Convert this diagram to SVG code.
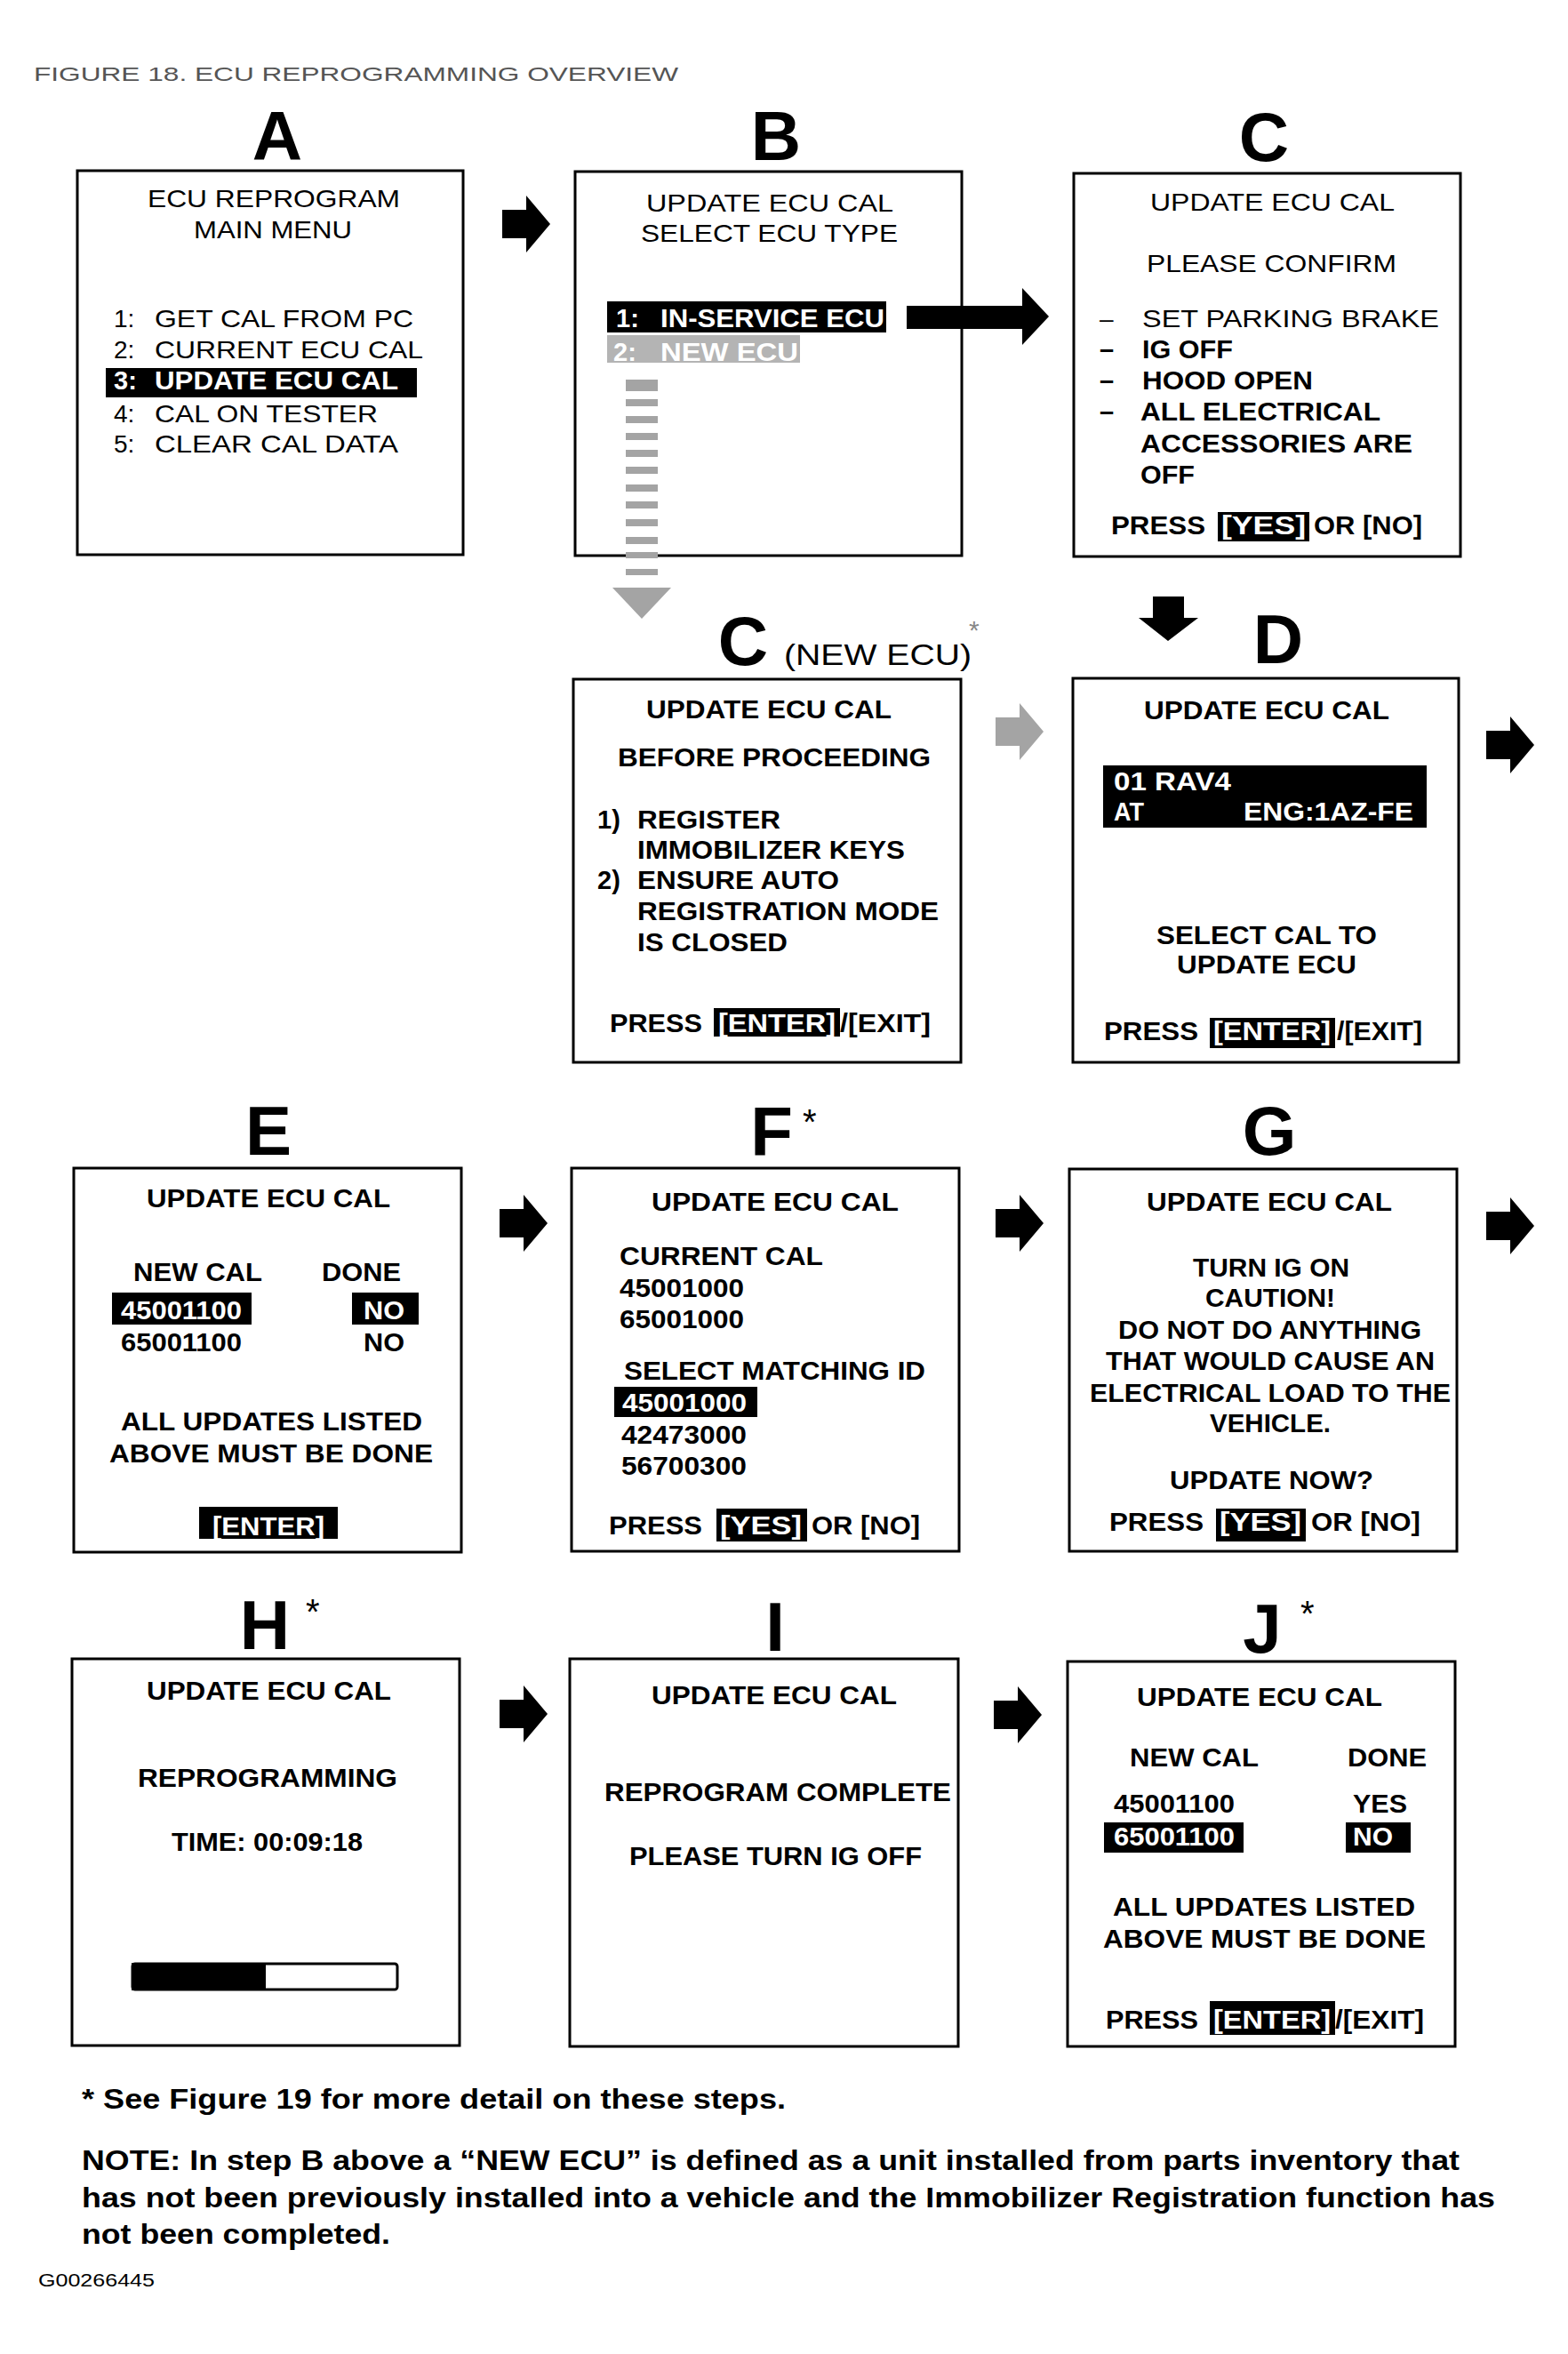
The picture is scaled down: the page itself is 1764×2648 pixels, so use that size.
<svg xmlns="http://www.w3.org/2000/svg" width="1764" height="2648" viewBox="0 0 1764 2648">
<style>
text { font-family: "Liberation Sans", Arial, sans-serif; fill: #000; }
.r { font-size: 28px; }
.b { font-size: 29px; font-weight: bold; }
.w { fill: #fff; }
.big { font-size: 78px; font-weight: bold; text-anchor: middle; }
.ast { font-size: 40px; }
.box { fill: #fff; stroke: #000; stroke-width: 3; }
.hl { fill: #000; }
.gray { fill: #a4a4a4; }
.foot { font-size: 32px; font-weight: bold; }
</style>
<defs>
<path id="arr" d="M0,-16 H27 V-32 L54,0 L27,32 V16 H0 Z"/>
</defs>
<rect width="1764" height="2648" fill="#fff"/>
<text x="38" y="91" font-size="22" style="fill:#555" textLength="725" lengthAdjust="spacingAndGlyphs">FIGURE 18. ECU REPROGRAMMING OVERVIEW</text>

<g id="node-A">
<text class="big" x="312" y="180">A</text>
<rect class="box" x="87" y="192" width="434" height="432"/>
<text class="r" x="166" y="233" textLength="284" lengthAdjust="spacingAndGlyphs">ECU REPROGRAM</text>
<text class="r" x="218" y="268" textLength="178" lengthAdjust="spacingAndGlyphs">MAIN MENU</text>
<text class="r" x="128" y="368">1:</text><text class="r" x="174" y="368" textLength="291" lengthAdjust="spacingAndGlyphs">GET CAL FROM PC</text>
<text class="r" x="128" y="403">2:</text><text class="r" x="174" y="403" textLength="302" lengthAdjust="spacingAndGlyphs">CURRENT ECU CAL</text>
<rect class="hl" x="119" y="414" width="350" height="33"/>
<text class="b w" x="128" y="438">3:</text><text class="b w" x="174" y="438" textLength="274" lengthAdjust="spacingAndGlyphs">UPDATE ECU CAL</text>
<text class="r" x="128" y="475">4:</text><text class="r" x="174" y="475" textLength="251" lengthAdjust="spacingAndGlyphs">CAL ON TESTER</text>
<text class="r" x="128" y="509">5:</text><text class="r" x="174" y="509" textLength="274" lengthAdjust="spacingAndGlyphs">CLEAR CAL DATA</text>
</g>

<g id="node-B">
<text class="big" x="873" y="180">B</text>
<rect class="box" x="647" y="193" width="435" height="432"/>
<text class="r" x="727" y="238" textLength="278" lengthAdjust="spacingAndGlyphs">UPDATE ECU CAL</text>
<text class="r" x="721" y="272" textLength="289" lengthAdjust="spacingAndGlyphs">SELECT ECU TYPE</text>
<rect class="hl" x="683" y="339" width="314" height="35"/>
<text class="b w" x="693" y="368">1:</text><text class="b w" x="743" y="368" textLength="252" lengthAdjust="spacingAndGlyphs">IN-SERVICE ECU</text>
<rect x="683" y="377" width="217" height="31" fill="#b4b4b4"/>
<text class="b w" x="690" y="406">2:</text><text class="b w" x="743" y="406" textLength="155" lengthAdjust="spacingAndGlyphs">NEW ECU</text>
</g>

<g id="node-C">
<text class="big" x="1422" y="181">C</text>
<rect class="box" x="1208" y="195" width="435" height="431"/>
<text class="r" x="1294" y="237" textLength="275" lengthAdjust="spacingAndGlyphs">UPDATE ECU CAL</text>
<text class="r" x="1290" y="306" textLength="281" lengthAdjust="spacingAndGlyphs">PLEASE CONFIRM</text>
<text class="r" x="1237" y="368">–</text><text class="r" x="1285" y="368" textLength="334" lengthAdjust="spacingAndGlyphs">SET PARKING BRAKE</text>
<text class="b" x="1237" y="403">–</text><text class="b" x="1285" y="403" textLength="102" lengthAdjust="spacingAndGlyphs">IG OFF</text>
<text class="b" x="1237" y="438">–</text><text class="b" x="1285" y="438" textLength="192" lengthAdjust="spacingAndGlyphs">HOOD OPEN</text>
<text class="b" x="1237" y="473">–</text><text class="b" x="1283" y="473" textLength="270" lengthAdjust="spacingAndGlyphs">ALL ELECTRICAL</text>
<text class="b" x="1283" y="509" textLength="306" lengthAdjust="spacingAndGlyphs">ACCESSORIES ARE</text>
<text class="b" x="1283" y="544" textLength="61" lengthAdjust="spacingAndGlyphs">OFF</text>
<text class="b" x="1250" y="601" textLength="106" lengthAdjust="spacingAndGlyphs">PRESS</text>
<rect class="hl" x="1370" y="576" width="103" height="33"/>
<text class="b w" x="1374" y="601" textLength="95" lengthAdjust="spacingAndGlyphs">[YES]</text>
<text class="b" x="1478" y="601" textLength="122" lengthAdjust="spacingAndGlyphs">OR [NO]</text>
</g>

<g id="node-C-new">
<text class="big" x="836" y="748">C</text>
<text x="882" y="748" font-size="34" textLength="211" lengthAdjust="spacingAndGlyphs">(NEW ECU)</text>
<text x="1090" y="719" font-size="30" style="fill:#888">*</text>
<rect class="box" x="645" y="764" width="436" height="431"/>
<text class="b" x="727" y="808" textLength="276" lengthAdjust="spacingAndGlyphs">UPDATE ECU CAL</text>
<text class="b" x="695" y="862" textLength="352" lengthAdjust="spacingAndGlyphs">BEFORE PROCEEDING</text>
<text class="b" x="672" y="932">1)</text><text class="b" x="717" y="932" textLength="161" lengthAdjust="spacingAndGlyphs">REGISTER</text>
<text class="b" x="717" y="966" textLength="301" lengthAdjust="spacingAndGlyphs">IMMOBILIZER KEYS</text>
<text class="b" x="672" y="1000">2)</text><text class="b" x="717" y="1000" textLength="227" lengthAdjust="spacingAndGlyphs">ENSURE AUTO</text>
<text class="b" x="717" y="1035" textLength="339" lengthAdjust="spacingAndGlyphs">REGISTRATION MODE</text>
<text class="b" x="717" y="1070" textLength="169" lengthAdjust="spacingAndGlyphs">IS CLOSED</text>
<text class="b" x="686" y="1161" textLength="104" lengthAdjust="spacingAndGlyphs">PRESS</text>
<rect class="hl" x="803" y="1134" width="142" height="32"/>
<text class="b w" x="808" y="1161" textLength="132" lengthAdjust="spacingAndGlyphs">[ENTER]</text>
<text class="b" x="945" y="1161" textLength="102" lengthAdjust="spacingAndGlyphs">/[EXIT]</text>
</g>

<g id="node-D">
<text class="big" x="1438" y="746">D</text>
<rect class="box" x="1207" y="763" width="434" height="432"/>
<text class="b" x="1287" y="809" textLength="276" lengthAdjust="spacingAndGlyphs">UPDATE ECU CAL</text>
<rect class="hl" x="1241" y="861" width="364" height="70"/>
<text class="b w" x="1253" y="889" textLength="132" lengthAdjust="spacingAndGlyphs">01 RAV4</text>
<text class="b w" x="1253" y="923" textLength="34" lengthAdjust="spacingAndGlyphs">AT</text>
<text class="b w" x="1399" y="923" textLength="191" lengthAdjust="spacingAndGlyphs">ENG:1AZ-FE</text>
<text class="b" x="1301" y="1062" textLength="248" lengthAdjust="spacingAndGlyphs">SELECT CAL TO</text>
<text class="b" x="1324" y="1095" textLength="202" lengthAdjust="spacingAndGlyphs">UPDATE ECU</text>
<text class="b" x="1242" y="1170" textLength="106" lengthAdjust="spacingAndGlyphs">PRESS</text>
<rect class="hl" x="1361" y="1145" width="141" height="34"/>
<text class="b w" x="1365" y="1170" textLength="132" lengthAdjust="spacingAndGlyphs">[ENTER]</text>
<text class="b" x="1504" y="1170" textLength="96" lengthAdjust="spacingAndGlyphs">/[EXIT]</text>
</g>

<g id="node-E">
<text class="big" x="302" y="1299">E</text>
<rect class="box" x="83" y="1314" width="436" height="432"/>
<text class="b" x="165" y="1358" textLength="274" lengthAdjust="spacingAndGlyphs">UPDATE ECU CAL</text>
<text class="b" x="150" y="1441" textLength="145" lengthAdjust="spacingAndGlyphs">NEW CAL</text>
<text class="b" x="362" y="1441" textLength="89" lengthAdjust="spacingAndGlyphs">DONE</text>
<rect class="hl" x="126" y="1454" width="157" height="36"/>
<text class="b w" x="136" y="1484" textLength="136" lengthAdjust="spacingAndGlyphs">45001100</text>
<rect class="hl" x="396" y="1454" width="75" height="36"/>
<text class="b w" x="409" y="1484" textLength="46" lengthAdjust="spacingAndGlyphs">NO</text>
<text class="b" x="136" y="1520" textLength="136" lengthAdjust="spacingAndGlyphs">65001100</text>
<text class="b" x="409" y="1520" textLength="46" lengthAdjust="spacingAndGlyphs">NO</text>
<text class="b" x="136" y="1609" textLength="339" lengthAdjust="spacingAndGlyphs">ALL UPDATES LISTED</text>
<text class="b" x="123" y="1645" textLength="364" lengthAdjust="spacingAndGlyphs">ABOVE MUST BE DONE</text>
<rect class="hl" x="224" y="1695" width="156" height="36"/>
<text class="b w" x="239" y="1727" textLength="126" lengthAdjust="spacingAndGlyphs">[ENTER]</text>
</g>

<g id="node-F">
<text class="big" x="868" y="1300">F</text>
<text class="ast" x="903" y="1276">*</text>
<rect class="box" x="643" y="1314" width="436" height="431"/>
<text class="b" x="733" y="1362" textLength="278" lengthAdjust="spacingAndGlyphs">UPDATE ECU CAL</text>
<text class="b" x="697" y="1423" textLength="229" lengthAdjust="spacingAndGlyphs">CURRENT CAL</text>
<text class="b" x="697" y="1459" textLength="140" lengthAdjust="spacingAndGlyphs">45001000</text>
<text class="b" x="697" y="1494" textLength="140" lengthAdjust="spacingAndGlyphs">65001000</text>
<text class="b" x="702" y="1552" textLength="339" lengthAdjust="spacingAndGlyphs">SELECT MATCHING ID</text>
<rect class="hl" x="691" y="1560" width="161" height="34"/>
<text class="b w" x="700" y="1588" textLength="140" lengthAdjust="spacingAndGlyphs">45001000</text>
<text class="b" x="699" y="1624" textLength="141" lengthAdjust="spacingAndGlyphs">42473000</text>
<text class="b" x="699" y="1659" textLength="141" lengthAdjust="spacingAndGlyphs">56700300</text>
<text class="b" x="685" y="1726" textLength="105" lengthAdjust="spacingAndGlyphs">PRESS</text>
<rect class="hl" x="806" y="1697" width="102" height="37"/>
<text class="b w" x="810" y="1726" textLength="92" lengthAdjust="spacingAndGlyphs">[YES]</text>
<text class="b" x="913" y="1726" textLength="122" lengthAdjust="spacingAndGlyphs">OR [NO]</text>
</g>

<g id="node-G">
<text class="big" x="1428" y="1299">G</text>
<rect class="box" x="1203" y="1315" width="436" height="430"/>
<text class="b" x="1290" y="1362" textLength="276" lengthAdjust="spacingAndGlyphs">UPDATE ECU CAL</text>
<text class="b" x="1342" y="1436" textLength="176" lengthAdjust="spacingAndGlyphs">TURN IG ON</text>
<text class="b" x="1356" y="1470" textLength="146" lengthAdjust="spacingAndGlyphs">CAUTION!</text>
<text class="b" x="1258" y="1506" textLength="341" lengthAdjust="spacingAndGlyphs">DO NOT DO ANYTHING</text>
<text class="b" x="1244" y="1541" textLength="370" lengthAdjust="spacingAndGlyphs">THAT WOULD CAUSE AN</text>
<text class="b" x="1226" y="1577" textLength="406" lengthAdjust="spacingAndGlyphs">ELECTRICAL LOAD TO THE</text>
<text class="b" x="1361" y="1611" textLength="136" lengthAdjust="spacingAndGlyphs">VEHICLE.</text>
<text class="b" x="1316" y="1675" textLength="229" lengthAdjust="spacingAndGlyphs">UPDATE NOW?</text>
<text class="b" x="1248" y="1722" textLength="106" lengthAdjust="spacingAndGlyphs">PRESS</text>
<rect class="hl" x="1368" y="1697" width="101" height="37"/>
<text class="b w" x="1372" y="1722" textLength="92" lengthAdjust="spacingAndGlyphs">[YES]</text>
<text class="b" x="1475" y="1722" textLength="123" lengthAdjust="spacingAndGlyphs">OR [NO]</text>
</g>

<g id="node-H">
<text class="big" x="298" y="1855">H</text>
<text class="ast" x="344" y="1827">*</text>
<rect class="box" x="81" y="1866" width="436" height="435"/>
<text class="b" x="165" y="1912" textLength="275" lengthAdjust="spacingAndGlyphs">UPDATE ECU CAL</text>
<text class="b" x="155" y="2010" textLength="292" lengthAdjust="spacingAndGlyphs">REPROGRAMMING</text>
<text class="b" x="193" y="2082" textLength="215" lengthAdjust="spacingAndGlyphs">TIME: 00:09:18</text>
<rect x="149" y="2209" width="298" height="29" rx="3" fill="#fff" stroke="#000" stroke-width="3"/>
<rect class="hl" x="148" y="2208" width="151" height="31"/>
</g>

<g id="node-I">
<text class="big" x="872" y="1857">I</text>
<rect class="box" x="641" y="1866" width="437" height="436"/>
<text class="b" x="733" y="1917" textLength="276" lengthAdjust="spacingAndGlyphs">UPDATE ECU CAL</text>
<text class="b" x="680" y="2026" textLength="390" lengthAdjust="spacingAndGlyphs">REPROGRAM COMPLETE</text>
<text class="b" x="708" y="2098" textLength="329" lengthAdjust="spacingAndGlyphs">PLEASE TURN IG OFF</text>
</g>

<g id="node-J">
<text class="big" x="1420" y="1859">J</text>
<text class="ast" x="1463" y="1829">*</text>
<rect class="box" x="1201" y="1869" width="436" height="433"/>
<text class="b" x="1279" y="1919" textLength="276" lengthAdjust="spacingAndGlyphs">UPDATE ECU CAL</text>
<text class="b" x="1271" y="1987" textLength="145" lengthAdjust="spacingAndGlyphs">NEW CAL</text>
<text class="b" x="1516" y="1987" textLength="89" lengthAdjust="spacingAndGlyphs">DONE</text>
<text class="b" x="1253" y="2039" textLength="136" lengthAdjust="spacingAndGlyphs">45001100</text>
<text class="b" x="1522" y="2039" textLength="61" lengthAdjust="spacingAndGlyphs">YES</text>
<rect class="hl" x="1242" y="2050" width="157" height="34"/>
<text class="b w" x="1253" y="2076" textLength="136" lengthAdjust="spacingAndGlyphs">65001100</text>
<rect class="hl" x="1514" y="2050" width="73" height="34"/>
<text class="b w" x="1522" y="2076" textLength="45" lengthAdjust="spacingAndGlyphs">NO</text>
<text class="b" x="1252" y="2155" textLength="340" lengthAdjust="spacingAndGlyphs">ALL UPDATES LISTED</text>
<text class="b" x="1241" y="2191" textLength="363" lengthAdjust="spacingAndGlyphs">ABOVE MUST BE DONE</text>
<text class="b" x="1244" y="2282" textLength="104" lengthAdjust="spacingAndGlyphs">PRESS</text>
<rect class="hl" x="1361" y="2251" width="141" height="38"/>
<text class="b w" x="1365" y="2282" textLength="132" lengthAdjust="spacingAndGlyphs">[ENTER]</text>
<text class="b" x="1502" y="2282" textLength="100" lengthAdjust="spacingAndGlyphs">/[EXIT]</text>
</g>

<g id="connectors">
<use href="#arr" x="565" y="252"/>
<path d="M1020,344 H1150 V324 L1180,356 L1150,388 V370 H1020 Z"/>
<g class="gray">
<rect x="704" y="427" width="36" height="13"/>
<rect x="704" y="449" width="36" height="8"/>
<rect x="704" y="468" width="36" height="8"/>
<rect x="704" y="487" width="36" height="8"/>
<rect x="704" y="506" width="36" height="8"/>
<rect x="704" y="525" width="36" height="8"/>
<rect x="704" y="545" width="36" height="8"/>
<rect x="704" y="564" width="36" height="8"/>
<rect x="704" y="584" width="36" height="8"/>
<rect x="704" y="604" width="36" height="8"/>
<rect x="704" y="621" width="36" height="7"/>
<rect x="704" y="640" width="36" height="7"/>
<polygon points="689,661 755,661 722,696"/>
<use href="#arr" x="1120" y="823"/>
</g>
<path d="M1297,671 H1332 V695 H1348 L1314,721 L1281,695 H1297 Z"/>
<use href="#arr" x="1672" y="838"/>
<use href="#arr" x="562" y="1376"/>
<use href="#arr" x="1120" y="1376"/>
<use href="#arr" x="1672" y="1379"/>
<use href="#arr" x="562" y="1928"/>
<use href="#arr" x="1118" y="1929"/>
</g>

<g id="footer">
<text class="foot" x="92" y="2372" textLength="792" lengthAdjust="spacingAndGlyphs">*  See Figure 19 for more detail on these steps.</text>
<text class="foot" x="92" y="2441" textLength="1550" lengthAdjust="spacingAndGlyphs">NOTE: In step B above a “NEW ECU” is defined as a unit installed from parts inventory that</text>
<text class="foot" x="92" y="2483" textLength="1590" lengthAdjust="spacingAndGlyphs">has not been previously installed into a vehicle and the Immobilizer Registration function has</text>
<text class="foot" x="92" y="2524" textLength="347" lengthAdjust="spacingAndGlyphs">not been completed.</text>
<text x="43" y="2572" font-size="20" textLength="131" lengthAdjust="spacingAndGlyphs">G00266445</text>
</g>
</svg>
